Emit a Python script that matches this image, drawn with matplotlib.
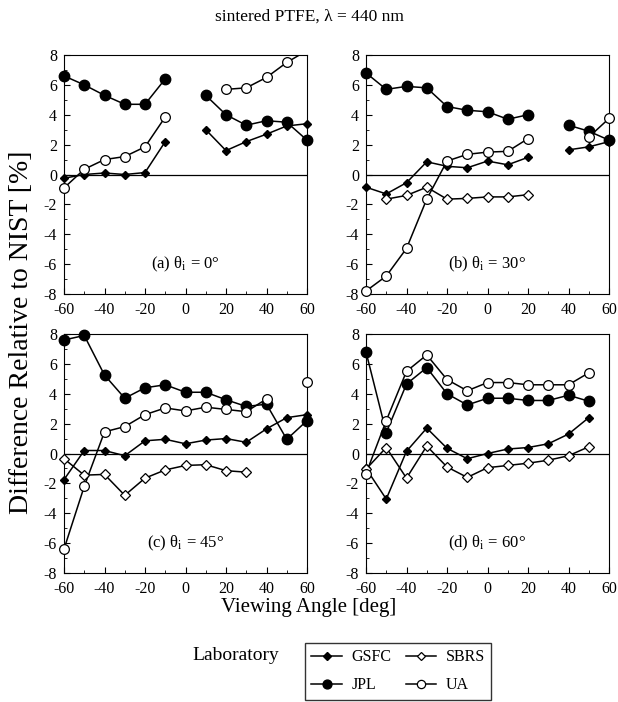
import numpy as np
import matplotlib
matplotlib.use("Agg")
import matplotlib.pyplot as plt
from matplotlib.ticker import MultipleLocator

plt.rcParams["font.family"] = ["Liberation Serif", "DejaVu Serif"]
plt.rcParams["mathtext.fontset"] = "stix"

nan = np.nan
angles = [-60, -50, -40, -30, -20, -10, 0, 10, 20, 30, 40, 50, 60]

# (a) theta_i = 0
a_gsfc = [-0.25, 0.0, 0.1, 0.0, 0.13, 2.2, nan, 3.0, 1.6, 2.2, 2.7, 3.25, 3.4]
a_jpl = [6.6, 6.0, 5.3, 4.7, 4.7, 6.4, nan, 5.3, 4.0, 3.3, 3.6, 3.5, 2.3]
a_sbrs = [nan] * 13
a_ua = [-0.9, 0.35, 1.0, 1.2, 1.85, 3.85, nan, nan, 5.7, 5.8, 6.5, 7.5, 8.3]

# (b) theta_i = 30
b_gsfc = [-0.85, -1.3, -0.55, 0.85, 0.55, 0.45, 0.9, 0.65, 1.15, nan, 1.65, 1.85, 2.2]
b_jpl = [6.8, 5.7, 5.9, 5.8, 4.55, 4.3, 4.2, 3.7, 4.0, nan, 3.3, 2.9, 2.3]
b_sbrs = [nan, -1.65, -1.4, -0.85, -1.65, -1.6, -1.5, -1.5, -1.35, nan, nan, nan, nan]
b_ua = [-7.8, -6.8, -4.95, -1.65, 0.9, 1.35, 1.5, 1.55, 2.4, nan, nan, 2.5, 3.75]

# (c) theta_i = 45
c_gsfc = [-1.75, 0.2, 0.2, -0.15, 0.85, 0.95, 0.65, 0.9, 1.0, 0.75, 1.65, 2.4, 2.6]
c_jpl = [7.6, 7.9, 5.25, 3.7, 4.4, 4.6, 4.1, 4.1, 3.6, 3.15, 3.3, 0.95, 2.2]
c_sbrs = [-0.35, -1.45, -1.4, -2.8, -1.65, -1.1, -0.8, -0.75, -1.15, -1.25, nan, nan, nan]
c_ua = [-6.4, -2.2, 1.45, 1.8, 2.6, 3.05, 2.85, 3.1, 2.95, 2.8, 3.65, nan, 4.8]

# (d) theta_i = 60
d_gsfc = [-1.0, -3.05, 0.15, 1.7, 0.35, -0.35, 0.0, 0.3, 0.4, 0.65, 1.3, 2.4, nan]
d_jpl = [6.8, 1.4, 4.65, 5.75, 4.0, 3.25, 3.7, 3.7, 3.55, 3.55, 3.9, 3.5, nan]
d_sbrs = [-1.05, 0.4, -1.65, 0.5, -0.9, -1.6, -0.95, -0.8, -0.65, -0.45, -0.15, 0.45, nan]
d_ua = [-1.35, 2.2, 5.5, 6.6, 4.95, 4.2, 4.75, 4.75, 4.6, 4.6, 4.6, 5.4, nan]

panels = [
    ("(a) ", "0°", a_gsfc, a_jpl, a_sbrs, a_ua),
    ("(b) ", "30°", b_gsfc, b_jpl, b_sbrs, b_ua),
    ("(c) ", "45°", c_gsfc, c_jpl, c_sbrs, c_ua),
    ("(d) ", "60°", d_gsfc, d_jpl, d_sbrs, d_ua),
]

labs = ["GSFC", "JPL", "SBRS", "UA"]
styles = {
    "GSFC": dict(marker="D", ms=4.5, mfc="black", mec="black"),
    "JPL": dict(marker="o", ms=7.5, mfc="black", mec="black"),
    "SBRS": dict(marker="D", ms=5.0, mfc="white", mec="black", mew=0.9),
    "UA": dict(marker="o", ms=7, mfc="white", mec="black", mew=0.9),
}

fig = plt.figure(figsize=(6.18, 7.02), dpi=100)
W, H = 618, 702
boxes = [(64, 55), (366, 55), (64, 334), (366, 334)]
aw, ah = 243, 239

x = np.array(angles, dtype=float)
for (lx, ty), (tag, ang, *series) in zip(boxes, panels):
    ax = fig.add_axes([lx / W, 1 - (ty + ah) / H, aw / W, ah / H])
    ax.axhline(0, color="black", lw=0.9, zorder=1)
    for lab, y in zip(labs, series):
        y = np.array(y, dtype=float)
        st = styles[lab]
        ax.plot(x, y, "-", color="black", lw=1.1, zorder=2)
        # markers drawn unclipped, except values beyond the axis range
        yin = np.where(np.abs(y) <= 8, y, nan)
        ax.plot(x, yin, linestyle="none", clip_on=False, zorder=3, **st)
    ax.set_xlim(-60, 60)
    ax.set_ylim(-8, 8)
    ax.xaxis.set_major_locator(MultipleLocator(20))
    ax.xaxis.set_minor_locator(MultipleLocator(10))
    ax.yaxis.set_major_locator(MultipleLocator(2))
    ax.yaxis.set_minor_locator(MultipleLocator(1))
    ax.tick_params(which="both", direction="in", top=False, right=False, labelsize=11.5)
    ax.tick_params(which="major", length=4)
    ax.tick_params(which="minor", length=2.5)
    ax.tick_params(axis="x", pad=6)
    ax.tick_params(axis="y", pad=5)
    ax.set_xticklabels([f"{int(v)}" for v in ax.get_xticks()])
    ax.set_yticklabels([f"{int(v)}" for v in ax.get_yticks()])
    ax.text(0.5, 0.125, tag + "θ$_\\mathrm{i}$ = " + ang, transform=ax.transAxes,
            ha="center", va="center", fontsize=12)

fig.text(0.5, 0.976, "sintered PTFE, λ = 440 nm", ha="center", va="center", fontsize=12.5)
fig.text(0.034, 0.526, "Difference Relative to NIST [%]", rotation=90,
         ha="center", va="center", fontsize=20)
fig.text(0.5, 0.134, "Viewing Angle [deg]", ha="center", va="center", fontsize=15)
fig.text(236 / W, 1 - 655 / H, "Laboratory", ha="center", va="center", fontsize=14)

handles = [plt.Line2D([], [], color="black", lw=1.1, **styles[l]) for l in labs]
for h in handles:
    h.set_markersize(h.get_markersize() * 0.85)
leg = fig.legend(handles, labs, ncol=2, loc="upper left", bbox_to_anchor=(305 / W, 1 - 643 / H),
                 borderaxespad=0, frameon=True, fancybox=False, edgecolor="black", fontsize=11.5,
                 handlelength=1.9, columnspacing=0.9, handletextpad=0.6, borderpad=0.4,
                 labelspacing=0.75)
leg.get_frame().set_linewidth(1.0)

fig.savefig("out.png", dpi=100)
